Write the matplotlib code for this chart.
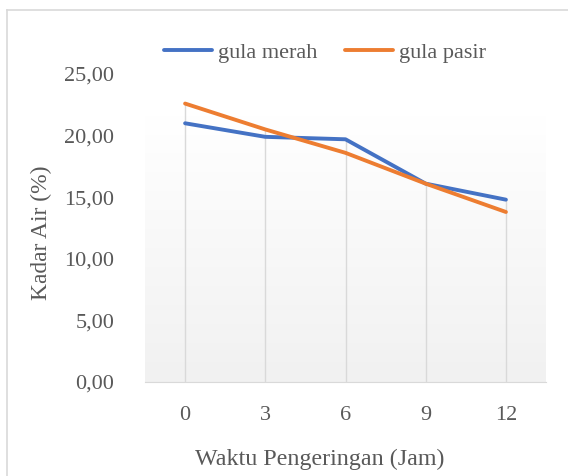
import numpy as np
import matplotlib.pyplot as plt
from matplotlib.ticker import FuncFormatter
from matplotlib.lines import Line2D

# data
waktu = ['0', '3', '6', '9', '12']
gula_merah = [21.0, 19.9, 19.7, 16.1, 14.8]
gula_pasir = [22.6, 20.5, 18.6, 16.1, 13.8]

plt.rcParams['font.family'] = ['Liberation Serif', 'DejaVu Serif']
txt = '#595959'
grid = '#d9d9d9'
fs = 16

fig = plt.figure(figsize=(5.68, 4.76), dpi=100)
ax = fig.add_axes([145 / 568, 1 - 382 / 476, 401 / 568, 308 / 476])

x = np.arange(len(waktu))

# gradient background of the plot area
grad = np.linspace(0, 1, 256).reshape(-1, 1, 1)
top = np.array([1.0, 1.0, 1.0])
bot = np.array([0.945, 0.945, 0.945])
img = top * (1 - grad) + bot * grad
ax.imshow(img, extent=[0, 1, 0, 0.864], transform=ax.transAxes,
          aspect='auto', zorder=0)

# drop lines
tinggi = np.maximum(gula_merah, gula_pasir)
ax.vlines(x, 0, tinggi, color=grid, lw=1, zorder=1)

ax.plot(x, gula_merah, color='#4472c4', lw=2.8, solid_capstyle='round', zorder=3)
ax.plot(x, gula_pasir, color='#ed7d31', lw=2.8, solid_capstyle='round', zorder=3)

ax.set_xlim(-0.5, len(waktu) - 0.5)
ax.set_ylim(0, 25)
ax.set_yticks([0, 5, 10, 15, 20, 25])
ax.yaxis.set_major_formatter(FuncFormatter(lambda v, p: f'{v:.2f}'.replace('.', ',')))
ax.set_xticks(x)
ax.set_xticklabels(waktu)
ax.tick_params(axis='both', length=0, labelsize=fs, colors=txt)
ax.tick_params(axis='x', pad=17)
ax.tick_params(axis='y', pad=22)

for s in ['top', 'right', 'left']:
    ax.spines[s].set_visible(False)
ax.spines['bottom'].set_color(grid)
ax.set_facecolor('none')

ax.set_xlabel('Waktu Pengeringan (Jam)', fontsize=17.3, color=txt)
ax.xaxis.set_label_coords((319.5 - 145) / 401, (382 - 449) / 308)
ax.set_ylabel('Kadar Air (%)', fontsize=16.9, color=txt)
ax.yaxis.set_label_coords((52 - 145) / 401, (382 - 233) / 308)

handles = [Line2D([], [], color='#4472c4', lw=2.8, solid_capstyle='round'),
           Line2D([], [], color='#ed7d31', lw=2.8, solid_capstyle='round')]
fig.legend(handles, ['gula merah', 'gula pasir'], loc='center',
           bbox_to_anchor=(325 / 568, 1 - 53 / 476), ncol=2, frameon=False,
           fontsize=fs, labelcolor=txt, handlelength=2.16, handletextpad=0.27,
           columnspacing=1.2)

# chart border (left and top visible)
fig.add_artist(Line2D([7 / 568, 7 / 568], [0, 1 - 10 / 476], color=grid, lw=1.2,
                      transform=fig.transFigure))
fig.add_artist(Line2D([7 / 568, 1], [1 - 10 / 476, 1 - 10 / 476], color=grid, lw=1.2,
                      transform=fig.transFigure))

fig.savefig('out.png', dpi=100)
